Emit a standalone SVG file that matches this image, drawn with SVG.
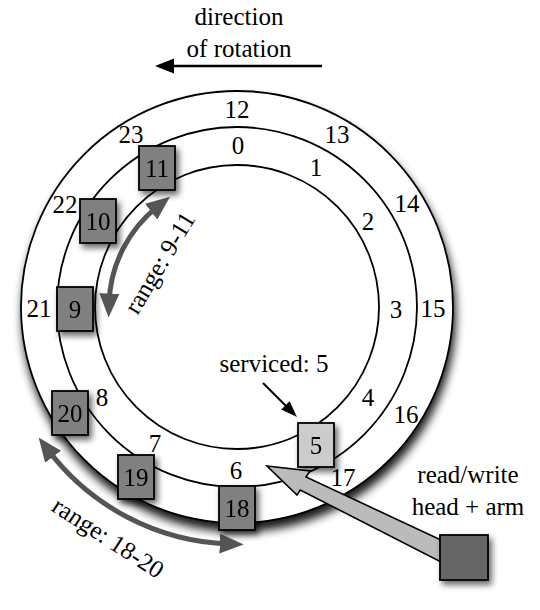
<svg xmlns="http://www.w3.org/2000/svg" width="540" height="610" viewBox="0 0 540 610">
<defs>
<style>
.t{font-family:'Liberation Serif','DejaVu Serif',serif;font-size:25px;fill:#000;text-anchor:middle}
.trk{fill:none;stroke:#000;stroke-width:1.8}
.box{fill:#808080;stroke:#000;stroke-width:1.8}
.rng{fill:none;stroke:#555;stroke-width:5}
</style>
<filter id="sh" x="-20%" y="-20%" width="150%" height="150%">
<feGaussianBlur in="SourceAlpha" stdDeviation="5"/>
<feOffset dx="2" dy="8"/>
<feComponentTransfer><feFuncA type="linear" slope="0.9"/></feComponentTransfer>
<feMerge><feMergeNode/><feMergeNode in="SourceGraphic"/></feMerge>
</filter>
<filter id="bsh" x="-40%" y="-40%" width="200%" height="200%">
<feGaussianBlur in="SourceAlpha" stdDeviation="3"/>
<feOffset dx="3" dy="4"/>
<feComponentTransfer><feFuncA type="linear" slope="0.6"/></feComponentTransfer>
<feMerge><feMergeNode/><feMergeNode in="SourceGraphic"/></feMerge>
</filter>
<marker id="ah" viewBox="0 0 24 20" refX="9" refY="10" markerWidth="24" markerHeight="20" markerUnits="userSpaceOnUse" orient="auto-start-reverse">
<path d="M0,0 L24,10 L0,20 z" fill="#555"/>
</marker>
</defs>

<g id="disk">
<circle cx="237" cy="307" r="216" fill="#fff" stroke="#000" stroke-width="1.8" filter="url(#sh)"/>
<circle class="trk" cx="237" cy="307" r="180"/>
<circle class="trk" cx="237" cy="307" r="142"/>
</g>

<g id="outer-labels" class="t" font-family="Liberation Serif, DejaVu Serif, serif">
<text x="237" y="118">12</text>
<text x="337" y="143">13</text>
<text x="407" y="212">14</text>
<text x="433" y="317">15</text>
<text x="406" y="423">16</text>
<text x="343" y="486">17</text>
<text x="39" y="317">21</text>
<text x="65" y="213">22</text>
<text x="131" y="143">23</text>
</g>

<g id="inner-labels" class="t" font-family="Liberation Serif, DejaVu Serif, serif">
<text x="238" y="154">0</text>
<text x="316" y="176">1</text>
<text x="368" y="230">2</text>
<text x="396" y="318">3</text>
<text x="368" y="406">4</text>
<text x="236" y="479">6</text>
<text x="155" y="452">7</text>
<text x="102" y="406">8</text>
</g>

<g id="connectors">
<line x1="322" y1="66" x2="170" y2="66" stroke="#000" stroke-width="2.5"/>
<polygon points="155,66 174,58.5 174,73.5" fill="#000"/>
<line x1="263" y1="383" x2="287" y2="407" stroke="#000" stroke-width="2"/>
<polygon points="297,417 281.2,409.6 289.6,401.2" fill="#000"/>
<path class="rng" d="M158.2,206.1 A128,128 0 0 0 109.1,302.5" marker-start="url(#ah)" marker-end="url(#ah)"/>
<path class="rng" d="M47.7,449.6 A237,237 0 0 0 228.7,543.9" marker-start="url(#ah)" marker-end="url(#ah)"/>
</g>

<g class="t" font-family="Liberation Serif, DejaVu Serif, serif">
<g id="sector-11" filter="url(#bsh)"><rect class="box" x="139" y="146" width="36" height="44"/><text x="157" y="176.5">11</text></g>
<g id="sector-10" filter="url(#bsh)"><rect class="box" x="80" y="199" width="36" height="44"/><text x="98" y="229.5">10</text></g>
<g id="sector-9" filter="url(#bsh)"><rect class="box" x="57" y="287" width="36" height="44"/><text x="75" y="317.5">9</text></g>
<g id="sector-20" filter="url(#bsh)"><rect class="box" x="52" y="391" width="36" height="44"/><text x="70" y="421.5">20</text></g>
<g id="sector-19" filter="url(#bsh)"><rect class="box" x="118" y="455" width="36" height="44"/><text x="136" y="485.5">19</text></g>
<g id="sector-18" filter="url(#bsh)"><rect class="box" x="219" y="486" width="36" height="44"/><text x="237" y="516.5">18</text></g>
<g id="sector-5" filter="url(#bsh)"><rect x="298" y="423" width="36" height="44" fill="#ccc" stroke="#000" stroke-width="1.8"/><text x="316" y="453.5">5</text></g>
</g>

<g id="arm">
<polygon points="267,466 310,471 306,477 441,540 441,562 300.3,490 297,495" fill="#bbb" stroke="#000" stroke-width="1.6" stroke-linejoin="miter"/>
<rect x="440" y="535" width="48" height="45" fill="#666" stroke="#000" stroke-width="1.8" filter="url(#bsh)"/>
</g>

<g id="labels" class="t" font-family="Liberation Serif, DejaVu Serif, serif">
<text x="239" y="25">direction</text>
<text x="239" y="57">of rotation</text>
<text x="274" y="372">serviced: 5</text>
<text x="468" y="483">read/write</text>
<text x="468" y="515">head + arm</text>
<text transform="translate(160,263) rotate(-59)" y="8">range: 9-11</text>
<text transform="translate(108,538) rotate(33)" y="8">range: 18-20</text>
</g>
</svg>
